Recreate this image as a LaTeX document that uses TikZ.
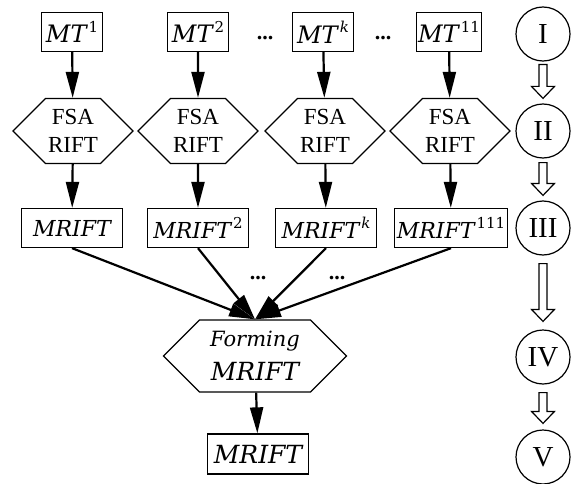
\documentclass[tikz,border=0pt]{standalone}
\usepackage{fontspec}
\setmainfont{Liberation Serif}
\newfontfamily\camb{DejaVu Serif}
\newcommand{\mv}[1]{{\camb\itshape #1}}
\newcommand{\sps}[1]{\kern2pt\raisebox{0.45em}{\camb\fontsize{15}{16}\selectfont #1}}
\usetikzlibrary{shapes.symbols,arrows.meta,calc}
\begin{document}
\begin{tikzpicture}[x=1pt,y=-1pt,
  box/.style={draw, line width=1.3pt, minimum height=39pt, inner xsep=2pt, inner ysep=0pt},
  mtbox/.style={box, minimum width=61pt, font=\fontsize{24}{28}\selectfont},
  rbox/.style={box, minimum width=101pt, font=\fontsize{22}{26}\selectfont},
  hexa/.style={draw, line width=1.3pt, shape=signal, signal to=west and east, signal pointer angle=90,
    minimum width=120pt, minimum height=65pt, inner sep=0pt, align=center, font=\fontsize{23}{28}\selectfont},
  stage/.style={draw, circle, line width=1.2pt, minimum size=54pt, inner sep=0pt, font=\fontsize{29}{30}\selectfont},
  arr/.style={-{Triangle[length=26pt,width=13pt]}, line width=2.2pt},
  dots/.style={inner sep=0pt, font=\fontsize{22}{24}\selectfont\bfseries},
  hollow/.style={line width=1.2pt, fill=white}
]
\useasboundingbox (0,0) rectangle (575,484);

% top row
\node[mtbox] (m1) at (72,32) {\mv{MT}\sps{1}};
\node[mtbox] (m2) at (198,32) {\mv{MT}\sps{2}};
\node[mtbox] (mk) at (323,32) {\mv{MT}\sps{\itshape k}};
\node[mtbox] (m11) at (449,32) {\mv{MT}\sps{11}};
\node[dots] (d1) at (265,38) {...};
\node[dots] (d2) at (383,38) {...};

% hexagons
\node[hexa] (f1) at (73,131) {FSA\\RIFT};
\node[hexa] (f2) at (198,131) {FSA\\RIFT};
\node[hexa] (f3) at (325,131) {FSA\\RIFT};
\node[hexa] (f4) at (450,131) {FSA\\RIFT};

% MRIFT row
\node[rbox] (r1) at (72,228) {\mv{MRIFT}};
\node[rbox] (r2) at (198,228) {\mv{MRIFT}\sps{2}};
\node[rbox] (r3) at (326,228) {\mv{MRIFT}\sps{\itshape k}};
\node[rbox] (r4) at (451,228) {\mv{MRIFT}\sps{111}};

% forming
\node[hexa, minimum width=183pt, minimum height=72pt, font=\fontsize{21}{34}\selectfont] (fm) at (255,356)
  {\mv{Forming}\\{\fontsize{25}{34}\selectfont\mv{MRIFT}}};
\node[box, minimum width=101pt, minimum height=40pt, font=\fontsize{25}{28}\selectfont] (out) at (258,454) {\mv{MRIFT}};

\node[dots] (d3) at (258,278) {...};
\node[dots] (d4) at (337,278) {...};

% arrows
\foreach \a/\b in {m1/f1, m2/f2, mk/f3, m11/f4, f1/r1, f2/r2, f3/r3, f4/r4}
  \draw[arr] (\a) -- (\b);
\foreach \a in {r1,r2,r3,r4}
  \draw[arr] (\a.south) -- (fm.north);
\draw[arr] (fm) -- (out);

% stages
\node[stage] (c1) at (543,34) {I};
\node[stage] (c2) at (543,131) {II};
\node[stage] (c3) at (543,228) {III};
\node[stage] (c4) at (543,357) {IV};
\node[stage] (c5) at (543,457) {V};

\foreach \a/\b/\g/\h in {c1/c2/3/5, c2/c3/4/5, c3/c4/8/8, c4/c5/8/6}
  \draw[hollow] let \p1=($(\a.south)+(0,\g)$), \p2=($(\b.north)-(0,\h)$) in
    (\x1-4pt,\y1) -- (\x1-4pt,\y2+12pt) -- (\x1-11.5pt,\y2+12pt) -- (\x1,\y2)
    -- (\x1+11.5pt,\y2+12pt) -- (\x1+4pt,\y2+12pt) -- (\x1+4pt,\y1) -- cycle;
\end{tikzpicture}
\end{document}
